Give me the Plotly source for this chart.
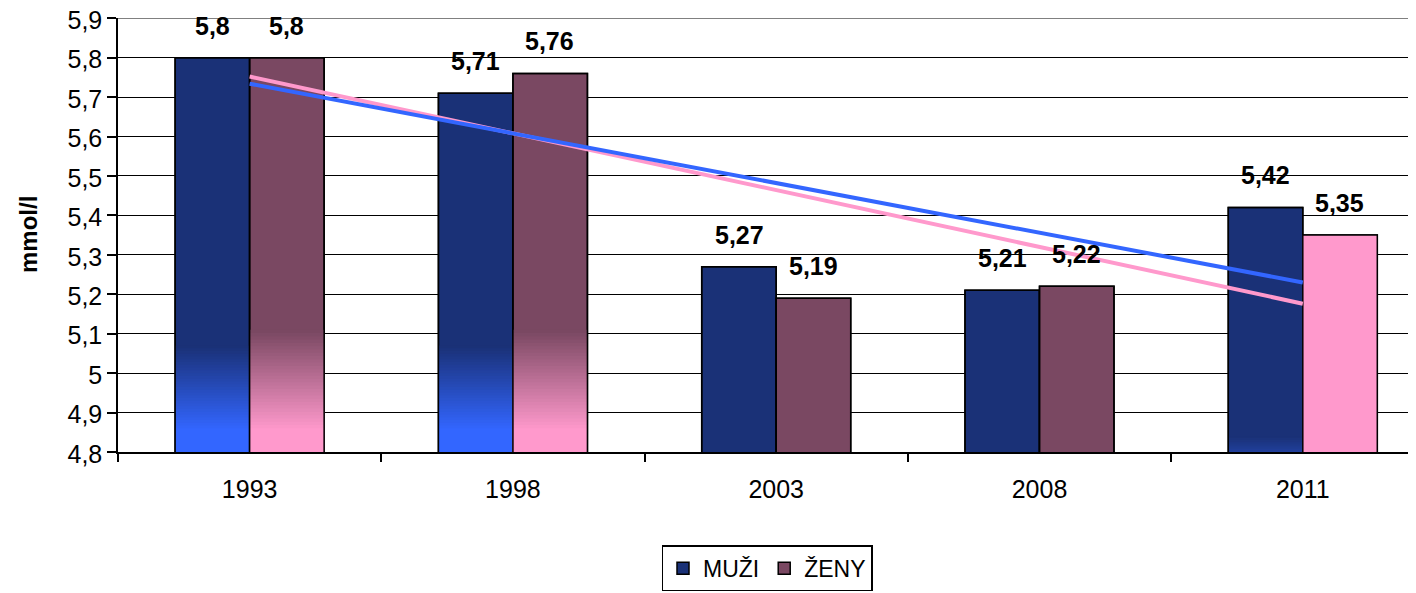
"""
Cholesterol (mmol/l) by survey year, men vs women, with linear trends
"""
import numpy as np
import plotly.graph_objects as go

YEARS = ['1993', '1998', '2003', '2008', '2011']
MUZI = [5.8, 5.71, 5.27, 5.21, 5.42]
ZENY = [5.8, 5.76, 5.19, 5.22, 5.35]

FONT = 'Arial, Liberation Sans, sans-serif'

MEN_DARK = (26, 49, 119)
MEN_LIGHT = (51, 102, 255)
WOMEN_DARK = (122, 72, 98)
WOMEN_LIGHT = (255, 153, 204)

# gradient fade (dark level -> light level) for each bar, None = solid fill
MEN_FADE = [(5.07, 4.86), (5.07, 4.86), None, None, (4.84, 4.70)]
WOMEN_FADE = [(5.11, 4.86), (5.11, 4.86), None, None, (9.0, 8.9)]
STEPS = 30


def rgb(c):
    return f'rgb({int(round(c[0]))},{int(round(c[1]))},{int(round(c[2]))})'


def mix(a, b, t):
    return tuple(a[i] + (b[i] - a[i]) * t for i in range(3))


def add_series(fig, name, values, dark, light, fade, group):
    # full bar in the dark colour
    fig.add_trace(go.Bar(
        x=YEARS, y=values, name=name, offsetgroup=group,
        marker=dict(color=rgb(dark), line=dict(color='black', width=1.5)),
        hoverinfo='skip'
    ))
    # shorter, lighter bars on top give the fade towards the base
    for k in range(STEPS + 1):
        t = k / STEPS
        ys = []
        for v, f in zip(values, fade):
            if f is None:
                ys.append(None)
            else:
                top, bottom = f
                ys.append(min(v, top - (top - bottom) * t))
        fig.add_trace(go.Bar(
            x=YEARS, y=ys, offsetgroup=group, showlegend=False,
            marker=dict(color=rgb(mix(dark, light, t)), line=dict(width=0)),
            hoverinfo='skip'
        ))
    # outline
    fig.add_trace(go.Bar(
        x=YEARS, y=values, offsetgroup=group, showlegend=False,
        marker=dict(color='rgba(0,0,0,0)', line=dict(color='black', width=1.5)),
        hovertemplate=name + ' %{x}: %{y}<extra></extra>'
    ))


fig = go.Figure()
add_series(fig, 'MUŽI', MUZI, MEN_DARK, MEN_LIGHT, MEN_FADE, 'm')
add_series(fig, 'ŽENY', ZENY, WOMEN_DARK, WOMEN_LIGHT, WOMEN_FADE, 'w')

# linear trend lines
idx = np.arange(len(YEARS))
for vals, col in [(ZENY, rgb(WOMEN_LIGHT)), (MUZI, rgb(MEN_LIGHT))]:
    slope, icpt = np.polyfit(idx, vals, 1)
    fig.add_trace(go.Scatter(
        x=YEARS, y=icpt + slope * idx, mode='lines', showlegend=False,
        line=dict(color=col, width=4), hoverinfo='skip'
    ))

# value labels (x given as category index)
for i in range(len(YEARS)):
    for v, dx in [(MUZI[i], -37), (ZENY[i], 37)]:
        fig.add_annotation(
            x=i, y=v, xref='x', yref='y',
            text='<b>' + f'{v:g}'.replace('.', ',') + '</b>',
            showarrow=False, xshift=dx, yshift=32, yanchor='middle',
            font=dict(family=FONT, size=25, color='black')
        )

# y axis title
fig.add_annotation(
    x=0, y=0.5, xref='paper', yref='paper', xshift=-90, textangle=-90,
    text='<b>mmol/l</b>', showarrow=False, xanchor='center', yanchor='middle',
    font=dict(family=FONT, size=24, color='black')
)

# top gridline (plotly drops the grid line at the range end)
fig.add_shape(type='line', xref='paper', yref='y', x0=0, x1=1, y0=5.9, y1=5.9,
              line=dict(color='#808080', width=1.5), layer='below')

# page body adds an 8px offset, margins below account for it
fig.update_layout(
    width=1416, height=593,
    barmode='group', bargap=0.434, bargroupgap=0,
    plot_bgcolor='white', paper_bgcolor='white',
    separators=', ',
    font=dict(family=FONT, size=25, color='black'),
    margin=dict(l=110, r=8, t=10, b=149),
    legend=dict(
        orientation='h', x=0.5, xanchor='center', y=-0.215, yanchor='top',
        bordercolor='black', borderwidth=1.5, font=dict(size=23),
        traceorder='normal'
    ),
)

fig.update_xaxes(
    type='category', range=[-0.5, 4.43], showline=True, linecolor='black',
    linewidth=1.5, ticks='outside', tickson='boundaries', ticklen=8,
    tickwidth=1.5, tickcolor='black', showgrid=False, ticklabelstandoff=14
)
fig.update_yaxes(
    range=[4.8, 5.9005], tick0=4.8, dtick=0.1, showline=True, linecolor='black',
    linewidth=1.5, ticks='outside', ticklen=9, tickwidth=1.5, tickcolor='black',
    showgrid=True, gridcolor='black', gridwidth=1.3, zeroline=False,
    ticklabeloverflow='allow', automargin=False, ticklabelshift=2
)

fig.write_html("out.html")
